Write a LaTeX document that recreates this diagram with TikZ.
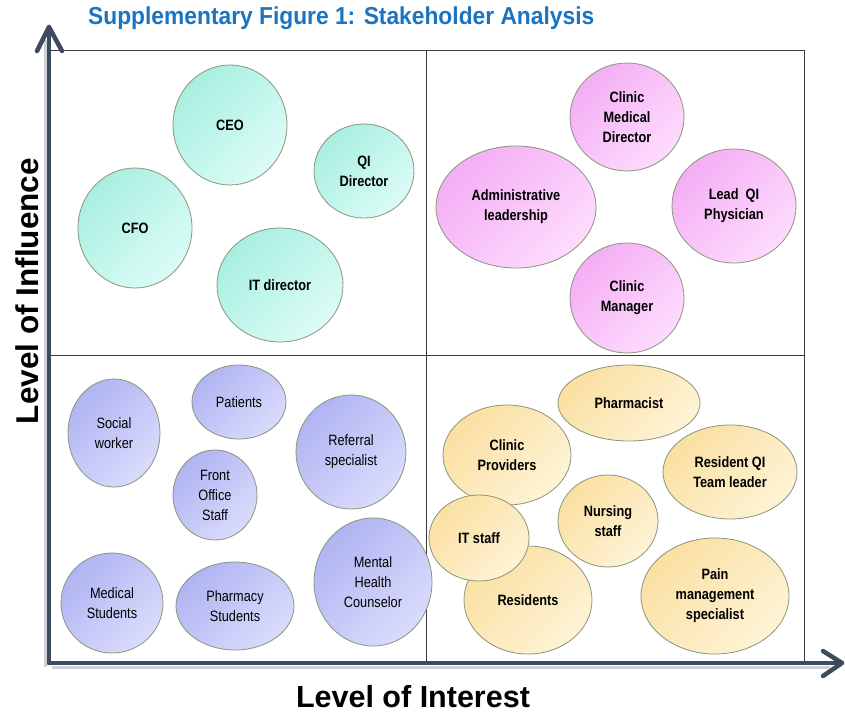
\documentclass[tikz,border=0pt]{standalone}
\usepackage{fontspec}
\setmainfont{Liberation Sans}
\newfontfamily\lblfont[FakeStretch=0.85]{Liberation Sans}
\newfontfamily\titlefont[FakeStretch=0.93]{Liberation Sans}
\usetikzlibrary{shapes.geometric}
\definecolor{axisc}{HTML}{3E4B5E}
\definecolor{shadowc}{HTML}{CDD2DA}
\definecolor{titlec}{HTML}{1A74C2}
\definecolor{gridc}{HTML}{3A3A3A}
\definecolor{olv}{HTML}{8A957A}
\definecolor{tealA}{HTML}{A8EFE1}
\definecolor{tealB}{HTML}{DCFCF6}
\definecolor{pinkA}{HTML}{F5AEF5}
\definecolor{pinkB}{HTML}{FDDCFD}
\definecolor{blueA}{HTML}{B0B4F2}
\definecolor{blueB}{HTML}{DADCFC}
\definecolor{yelA}{HTML}{FAE0A2}
\definecolor{yelB}{HTML}{FEF3D6}
\begin{document}
\begin{tikzpicture}[x=1pt,y=-1pt,
  sz/.style 2 args={minimum width=#1pt, minimum height=#2pt},
  bub/.style={ellipse, draw=olv, line width=0.8pt, inner sep=0pt, align=center,
    text=black, font=\lblfont\bfseries\fontsize{15}{20}\selectfont},
  tealb/.style={bub, top color=tealA, bottom color=tealB, shading angle=45},
  pinkb/.style={bub, top color=pinkA, bottom color=pinkB, shading angle=45},
  blueb/.style={bub, top color=blueA, bottom color=blueB, shading angle=45,
    font=\lblfont\fontsize{15}{20}\selectfont},
  yelb/.style={bub, top color=yelA, bottom color=yelB, shading angle=45},
  axisline/.style={draw=axisc, line width=4.5pt, line cap=round, line join=round},
  shadowline/.style={draw=shadowc, line width=3pt},
  gridline/.style={draw=gridc, line width=0.8pt}]
\useasboundingbox (0,0) rectangle (845,717);
\fill[white] (0,0) rectangle (845,717);

% title and axis labels
\node[anchor=base west, inner sep=0pt, text=titlec,
  font=\titlefont\bfseries\fontsize{24.5}{28}\selectfont] (title) at (88,25)
  {Supplementary Figure 1: Stakeholder Analysis};
\node[anchor=base, inner sep=0pt, font=\bfseries\fontsize{30.5}{34}\selectfont]
  (xlabel) at (413,707) {Level of Interest};
\node[anchor=base, rotate=90, inner sep=0pt, font=\bfseries\fontsize{31.5}{34}\selectfont]
  (ylabel) at (38,291) {Level of Influence};

% grid
\coordinate (bl) at (50,663);
\coordinate (tl) at (50,50);
\coordinate (tr) at (804,50);
\coordinate (br) at (804,663);
\coordinate (mt) at (426,50);
\coordinate (mb) at (426,663);
\coordinate (ml) at (50,355);
\coordinate (mr) at (804,355);
\draw[gridline] (bl) -- (tl) -- (tr) -- (br) -- cycle;
\draw[gridline] (mt) -- (mb);
\draw[gridline] (ml) -- (mr);

% top-left: teal
\node[tealb, sz={114}{120}] (ceo) at (230,125) {CEO};
\node[tealb, sz={100}{94}] (qid) at (364,171) {QI\\Director};
\node[tealb, sz={114}{120}] (cfo) at (135,228) {CFO};
\node[tealb, sz={126}{114}] (itd) at (280,285) {IT director};

% top-right: pink
\node[pinkb, sz={114}{108}] (cmd) at (627,117) {Clinic\\Medical\\Director};
\node[pinkb, sz={160}{122}] (adm) at (516,207) {Administrative\\leadership};
\node[pinkb, sz={124}{114}] (lqi) at (734,206) {Lead\ \ QI\\Physician};
\node[pinkb, sz={114}{110}] (cman) at (627,298) {Clinic\\Manager};

% bottom-left: blue
\node[blueb, sz={92}{108}] (sw) at (114,433) {Social\\worker};
\node[blueb, sz={94}{74}] (pat) at (239,402) {Patients};
\node[blueb, sz={110}{114}] (ref) at (351,452) {Referral\\specialist};
\node[blueb, sz={84}{90}] (fos) at (215,495) {Front\\Office\\Staff};
\node[blueb, sz={102}{100}] (meds) at (112,603) {Medical\\Students};
\node[blueb, sz={118}{88}] (phs) at (235,606) {Pharmacy\\Students};
\node[blueb, sz={118}{128}] (mhc) at (373,582) {Mental\\Health\\Counselor};

% bottom-right: yellow
\node[yelb, sz={142}{76}] (pharm) at (629,403) {Pharmacist};
\node[yelb, sz={128}{100}] (cp) at (507,455) {Clinic\\Providers};
\node[yelb, sz={134}{94}] (rqi) at (730,472) {Resident QI\\Team leader};
\node[yelb, sz={100}{92}] (ns) at (608,521) {Nursing\\staff};
\node[yelb, sz={128}{108}] (res) at (528,600) {Residents};
\node[yelb, sz={100}{86}] (its) at (479,538) {IT staff};
\node[yelb, sz={148}{116}] (pain) at (715,596) {Pain\\management\\specialist};

% axes
\coordinate (origin) at (49,663);
\coordinate (ytip) at (49,27);
\coordinate (xtip) at (842,663);
\coordinate (ya) at (37,51);
\coordinate (yb) at (62,51);
\coordinate (xa) at (823,651);
\coordinate (xb) at (823,676);
\coordinate (shO) at (52,667);
\coordinate (shX) at (830,667);
\coordinate (shY) at (45,40);
\coordinate (shO2) at (45,667);
\draw[shadowline] (shO) -- (shX);
\draw[shadowline] (shO2) -- (shY);
\draw[axisline] (origin) -- (ytip);
\draw[axisline] (origin) -- (xtip);
\draw[axisline] (ya) -- (ytip) -- (yb);
\draw[axisline] (xa) -- (xtip) -- (xb);
\end{tikzpicture}
\end{document}
